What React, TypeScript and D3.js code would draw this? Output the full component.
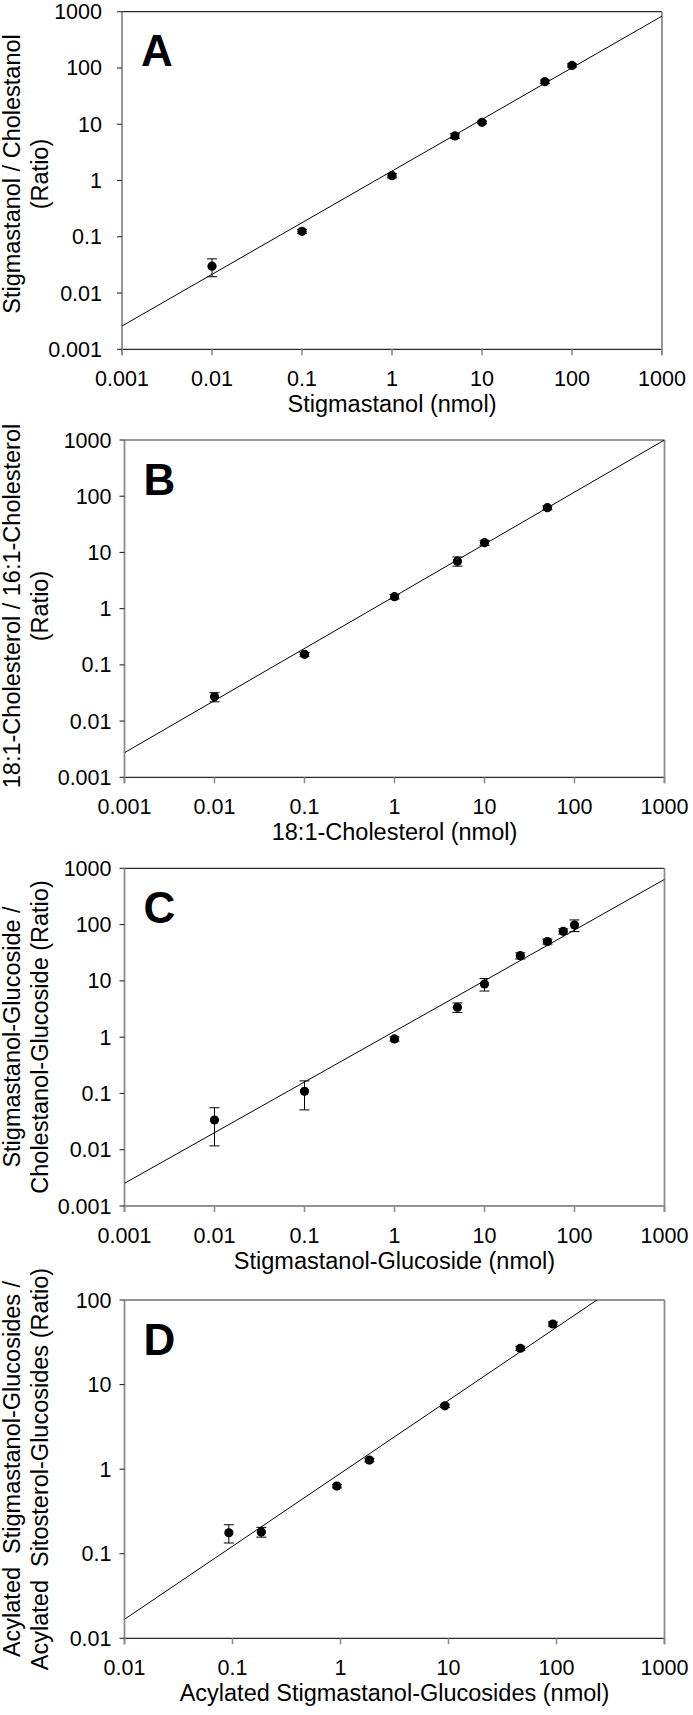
import React from "react";
import * as d3 from "d3";

// ---------- DATA ----------
const ticksWide = [0.001, 0.01, 0.1, 1, 10, 100, 1000];
const tickLabelsWide = ["0.001", "0.01", "0.1", "1", "10", "100", "1000"];
const xTicksD = [0.01, 0.1, 1, 10, 100, 1000];
const xTickLabelsD = ["0.01", "0.1", "1", "10", "100", "1000"];
const yTicksD = [0.01, 0.1, 1, 10, 100];
const yTickLabelsD = ["0.01", "0.1", "1", "10", "100"];

// Panel A
const xA = [0.01, 0.1, 1, 5, 10, 50, 100];
const yA = [0.030, 0.125, 1.22, 6.2, 10.8, 57, 111];
const sdA = [0.0105, 0.01, 0.1, 0.6, 0.6, 4, 7];
const fitA = [0.918, 0.168]; // slope, log10 intercept

// Panel B
const xB = [0.01, 0.1, 1, 5, 10, 50];
const yB = [0.027, 0.154, 1.63, 7.0, 14.9, 62.5];
const sdB = [0.005, 0.012, 0.15, 1.3, 1.5, 5];
const fitB = [0.927, 0.219];

// Panel C
const xC = [0.01, 0.1, 1, 5, 10, 25, 50, 75, 100];
const yC = [0.0337, 0.109, 0.93, 3.4, 8.8, 28, 50, 76, 98];
const sdC = [0.022, 0.058, 0.08, 0.65, 2.2, 3.5, 5, 8, 23];
const fitC = [0.9, 0.103];

// Panel D
const xD = [0.0925, 0.185, 0.925, 1.85, 9.25, 46.25, 92.5];
const yD = [0.177, 0.181, 0.63, 1.28, 5.6, 26.9, 52];
const sdD = [0.043, 0.024, 0.03, 0.06, 0.25, 1.5, 3];
const fitD = [0.863, -0.049];

const letters = ["A", "B", "C", "D"];
const yTitles = [
  ["Stigmastanol / Cholestanol", "(Ratio)"],
  ["18:1-Cholesterol / 16:1-Cholesterol", "(Ratio)"],
  ["Stigmastanol-Glucoside /", "Cholestanol-Glucoside (Ratio)"],
  ["Acylated  Stigmastanol-Glucosides /", "Acylated  Sitosterol-Glucosides (Ratio)"],
];
const xTitles = [
  "Stigmastanol (nmol)",
  "18:1-Cholesterol (nmol)",
  "Stigmastanol-Glucoside (nmol)",
  "Acylated Stigmastanol-Glucosides (nmol)",
];

// ---------- LAYOUT ----------
const layout = [
  { left: 122, right: 662, top: 11.7, bottom: 349.3, yLabGap: 20, xLabDy: 36.5, xTitleDy: 62.5, yTitleC: 174 },
  { left: 124.5, right: 664.5, top: 440, bottom: 777.3, yLabGap: 13, xLabDy: 36.5, xTitleDy: 62.5, yTitleC: 606 },
  { left: 124.5, right: 664.5, top: 868.3, bottom: 1206, yLabGap: 13, xLabDy: 36.5, xTitleDy: 62.5, yTitleC: 1037 },
  { left: 124.5, right: 664.5, top: 1300, bottom: 1638.3, yLabGap: 13, xLabDy: 36.5, xTitleDy: 63, yTitleC: 1469 },
];

const panels = [
  { xs: xA, ys: yA, sds: sdA, fit: fitA, xT: ticksWide, xTL: tickLabelsWide, yT: ticksWide, yTL: tickLabelsWide, xDom: [0.001, 1000], yDom: [0.001, 1000] },
  { xs: xB, ys: yB, sds: sdB, fit: fitB, xT: ticksWide, xTL: tickLabelsWide, yT: ticksWide, yTL: tickLabelsWide, xDom: [0.001, 1000], yDom: [0.001, 1000] },
  { xs: xC, ys: yC, sds: sdC, fit: fitC, xT: ticksWide, xTL: tickLabelsWide, yT: ticksWide, yTL: tickLabelsWide, xDom: [0.001, 1000], yDom: [0.001, 1000] },
  { xs: xD, ys: yD, sds: sdD, fit: fitD, xT: xTicksD, xTL: xTickLabelsD, yT: yTicksD, yTL: yTickLabelsD, xDom: [0.01, 1000], yDom: [0.01, 100] },
];

const FONT = "'Liberation Sans', Arial, Helvetica, sans-serif";
const VCOL = "#8c8c8c";
const HCOL = "#2a2a2a";

function Panel({ i }: { i: number }) {
  const p = panels[i];
  const L = layout[i];
  const x = d3.scaleLog().domain(p.xDom).range([L.left, L.right]);
  const y = d3.scaleLog().domain(p.yDom).range([L.bottom, L.top]);
  const clipId = `clip${i}`;
  const fitY = (v: number) => Math.pow(10, p.fit[1] + p.fit[0] * Math.log10(v));
  const lineGen = d3
    .line<number>()
    .x((v) => x(v))
    .y((v) => y(fitY(v)));
  const cx = (L.left + L.right) / 2;
  return (
    <g>
      <defs>
        <clipPath id={clipId}>
          <rect x={L.left} y={L.top} width={L.right - L.left} height={L.bottom - L.top} />
        </clipPath>
      </defs>
      {/* frame */}
      <line x1={L.left} x2={L.right} y1={L.top} y2={L.top} stroke={HCOL} strokeWidth={1.2} />
      <line x1={L.left} x2={L.right} y1={L.bottom} y2={L.bottom} stroke={HCOL} strokeWidth={1.2} />
      <line x1={L.left} x2={L.left} y1={L.top} y2={L.bottom + 6} stroke={VCOL} strokeWidth={1.8} />
      <line x1={L.right} x2={L.right} y1={L.top} y2={L.bottom + 6} stroke={VCOL} strokeWidth={1.8} />
      {/* x ticks */}
      {p.xT.map((t, k) => (
        <g key={"xt" + k}>
          <line x1={x(t)} x2={x(t)} y1={L.bottom} y2={L.bottom + 6} stroke={VCOL} strokeWidth={1.6} />
          <text x={x(t)} y={L.bottom + L.xLabDy} textAnchor="middle" fontSize={21.5} fontFamily={FONT} fill="#000">
            {p.xTL[k]}
          </text>
        </g>
      ))}
      {/* y ticks */}
      {p.yT.map((t, k) => (
        <g key={"yt" + k}>
          <line x1={L.left - 5} x2={L.left} y1={y(t)} y2={y(t)} stroke={HCOL} strokeWidth={1.1} />
          <text x={L.left - L.yLabGap} y={y(t) + 7.5} textAnchor="end" fontSize={21.5} fontFamily={FONT} fill="#000">
            {p.yTL[k]}
          </text>
        </g>
      ))}
      {/* fit line */}
      <path d={lineGen([p.xDom[0], p.xDom[1]]) || ""} fill="none" stroke="#000" strokeWidth={1} clipPath={`url(#${clipId})`} />
      {/* error bars + points */}
      {p.xs.map((xv, k) => {
        const yv = p.ys[k];
        const sd = p.sds[k];
        const lo = Math.max(yv - sd, p.yDom[0]);
        const hi = yv + sd;
        const px = x(xv);
        return (
          <g key={"pt" + k}>
            <line x1={px} x2={px} y1={y(lo)} y2={y(hi)} stroke="#000" strokeWidth={1} />
            <line x1={px - 5} x2={px + 5} y1={y(lo)} y2={y(lo)} stroke="#000" strokeWidth={1} />
            <line x1={px - 5} x2={px + 5} y1={y(hi)} y2={y(hi)} stroke="#000" strokeWidth={1} />
            <circle cx={px} cy={y(yv)} r={4.6} fill="#000" />
          </g>
        );
      })}
      {/* panel letter */}
      <text x={L.left + 19} y={L.top + 54.5} fontSize={44} fontWeight="bold" fontFamily={FONT} fill="#000">
        {letters[i]}
      </text>
      {/* y title */}
      <text transform={`translate(20,${L.yTitleC}) rotate(-90)`} textAnchor="middle" fontSize={23.5} fontFamily={FONT} fill="#000" style={{ whiteSpace: "pre" }}>
        {yTitles[i][0]}
      </text>
      <text transform={`translate(48,${L.yTitleC}) rotate(-90)`} textAnchor="middle" fontSize={23.5} fontFamily={FONT} fill="#000" style={{ whiteSpace: "pre" }}>
        {yTitles[i][1]}
      </text>
      {/* x title */}
      <text x={cx} y={L.bottom + L.xTitleDy} textAnchor="middle" fontSize={23.5} fontFamily={FONT} fill="#000">
        {xTitles[i]}
      </text>
    </g>
  );
}

export default function App() {
  return (
    <div style={{ position: "absolute", left: 0, top: 0, width: 693, height: 1715, background: "#fff" }}>
      <svg width={693} height={1715} viewBox="0 0 693 1715" style={{ display: "block" }}>
        <rect x={0} y={0} width={693} height={1715} fill="#fff" />
        {panels.map((_, i) => (
          <Panel key={i} i={i} />
        ))}
      </svg>
    </div>
  );
}
